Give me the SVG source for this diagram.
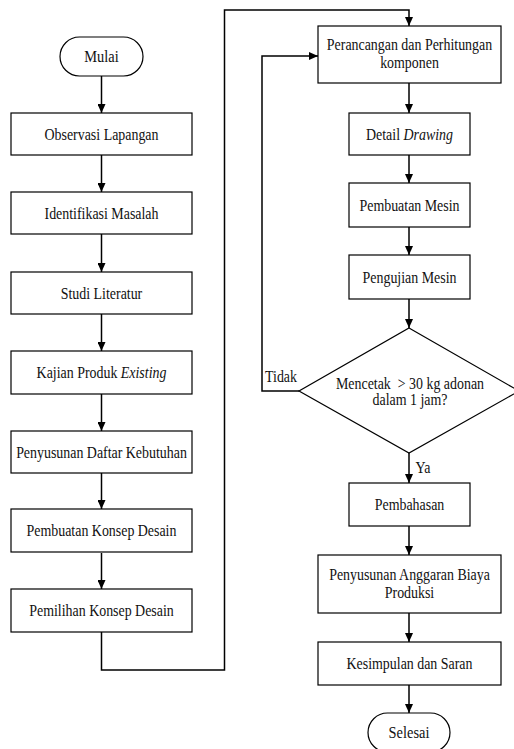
<svg xmlns="http://www.w3.org/2000/svg" width="514" height="749" viewBox="0 0 514 749">
<defs>
<marker id="ah" markerUnits="userSpaceOnUse" markerWidth="9" markerHeight="8" refX="9" refY="4" orient="auto">
<path d="M0,0 L9,4 L0,8 z" fill="#000"/>
</marker>
<style>
.box{fill:#fff;stroke:#000;stroke-width:1.2}
.c{fill:none;stroke:#000;stroke-width:1.5;marker-end:url(#ah)}
text{font-size:16px;fill:#111;text-anchor:middle}
.i{font-style:italic}
</style>
</defs>
<rect width="514" height="749" fill="#fff"/>
<g font-family="Liberation Serif, Times New Roman, serif">
<g id="connectors">
<line class="c" x1="101.5" y1="76" x2="101.5" y2="113"/>
<line class="c" x1="101.5" y1="155" x2="101.5" y2="192"/>
<line class="c" x1="101.5" y1="234" x2="101.5" y2="272"/>
<line class="c" x1="101.5" y1="314" x2="101.5" y2="351"/>
<line class="c" x1="101.5" y1="394" x2="101.5" y2="431"/>
<line class="c" x1="101.5" y1="473" x2="101.5" y2="509"/>
<line class="c" x1="101.5" y1="553" x2="101.5" y2="589"/>
<polyline class="c" points="101.5,632 101.5,670 224.5,670 224.5,10 409,10 409,26"/>
<line class="c" x1="409" y1="83" x2="409" y2="113"/>
<line class="c" x1="409" y1="155" x2="409" y2="183"/>
<line class="c" x1="409" y1="227" x2="409" y2="255"/>
<line class="c" x1="409" y1="299" x2="409" y2="328"/>
<polyline class="c" points="299,391 262,391 262,56 318,56"/>
<line class="c" x1="409" y1="453" x2="409" y2="483"/>
<line class="c" x1="409" y1="526" x2="409" y2="555"/>
<line class="c" x1="409" y1="613" x2="409" y2="642"/>
<line class="c" x1="409" y1="685" x2="409" y2="713"/>
<text transform="translate(281,382) scale(0.87,1)">Tidak</text>
<text transform="translate(423,473) scale(0.87,1)">Ya</text>
</g>
<g id="mulai">
<rect class="box" x="60" y="37" width="83" height="39" rx="19.5"/>
<text transform="translate(101.5,62) scale(0.9,1)">Mulai</text>
</g>
<g id="observasi">
<rect class="box" x="11" y="113" width="181" height="42"/>
<text transform="translate(101.5,140) scale(0.87,1)">Observasi Lapangan</text>
</g>
<g id="identifikasi">
<rect class="box" x="11" y="192" width="181" height="42"/>
<text transform="translate(101.5,219) scale(0.87,1)">Identifikasi Masalah</text>
</g>
<g id="studi">
<rect class="box" x="11" y="272" width="181" height="42"/>
<text transform="translate(101.5,299) scale(0.87,1)">Studi Literatur</text>
</g>
<g id="kajian">
<rect class="box" x="11" y="351" width="181" height="43"/>
<text transform="translate(101.5,378) scale(0.87,1)">Kajian Produk <tspan class="i">Existing</tspan></text>
</g>
<g id="penyusunan-daftar">
<rect class="box" x="11" y="431" width="181" height="42"/>
<text transform="translate(101.5,458) scale(0.87,1)">Penyusunan Daftar Kebutuhan</text>
</g>
<g id="pembuatan-konsep">
<rect class="box" x="11" y="509" width="181" height="43"/>
<text transform="translate(101.5,536) scale(0.87,1)">Pembuatan Konsep Desain</text>
</g>
<g id="pemilihan-konsep">
<rect class="box" x="11" y="589" width="181" height="43"/>
<text transform="translate(101.5,616) scale(0.87,1)">Pemilihan Konsep Desain</text>
</g>
<g id="perancangan">
<rect class="box" x="318" y="26" width="183" height="57"/>
<text transform="translate(409.5,50) scale(0.87,1)">Perancangan dan Perhitungan</text>
<text transform="translate(409.5,68) scale(0.87,1)">komponen</text>
</g>
<g id="detail-drawing">
<rect class="box" x="349" y="113" width="121" height="42"/>
<text transform="translate(409.5,140) scale(0.87,1)">Detail <tspan class="i">Drawing</tspan></text>
</g>
<g id="pembuatan-mesin">
<rect class="box" x="349" y="183" width="121" height="44"/>
<text transform="translate(409.5,211) scale(0.87,1)">Pembuatan Mesin</text>
</g>
<g id="pengujian-mesin">
<rect class="box" x="349" y="255" width="121" height="44"/>
<text transform="translate(409.5,283) scale(0.87,1)">Pengujian Mesin</text>
</g>
<g id="decision">
<polygon class="box" points="409,328 519,391 409,453 299,391"/>
<text transform="translate(410,389) scale(0.87,1)" xml:space="preserve">Mencetak  &gt; 30 kg adonan</text>
<text transform="translate(410,405) scale(0.87,1)">dalam 1 jam?</text>
</g>
<g id="pembahasan">
<rect class="box" x="349" y="483" width="121" height="43"/>
<text transform="translate(409.5,510) scale(0.87,1)">Pembahasan</text>
</g>
<g id="anggaran">
<rect class="box" x="318" y="555" width="183" height="58"/>
<text transform="translate(409.5,580) scale(0.87,1)">Penyusunan Anggaran Biaya</text>
<text transform="translate(409.5,598) scale(0.87,1)">Produksi</text>
</g>
<g id="kesimpulan">
<rect class="box" x="318" y="642" width="183" height="43"/>
<text transform="translate(409.5,669) scale(0.87,1)">Kesimpulan dan Saran</text>
</g>
<g id="selesai">
<rect class="box" x="368" y="713" width="82" height="39" rx="19.5"/>
<text transform="translate(409,738) scale(0.9,1)">Selesai</text>
</g>
</g>
</svg>
